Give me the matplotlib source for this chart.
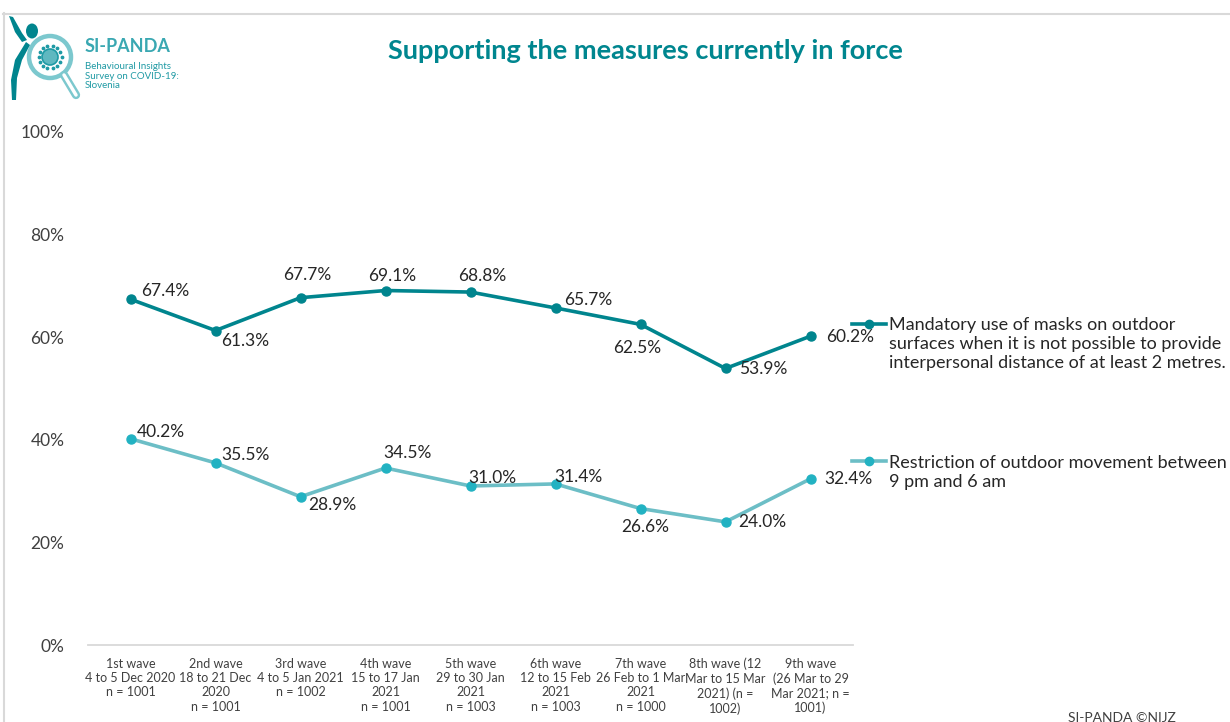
import matplotlib
matplotlib.use("Agg")
import matplotlib.pyplot as plt
from matplotlib.patches import Circle, Ellipse, Polygon
import numpy as np

# ---------------- data ----------------
waves = [
    "1st wave\n4 to 5 Dec 2020\nn = 1001",
    "2nd wave\n18 to 21 Dec\n2020\nn = 1001",
    "3rd wave\n4 to 5 Jan 2021\nn = 1002",
    "4th wave\n15 to 17 Jan\n2021\nn = 1001",
    "5th wave\n29 to 30 Jan\n2021\nn = 1003",
    "6th wave\n12 to 15 Feb\n2021\nn = 1003",
    "7th wave\n26 Feb to 1 Mar\n2021\nn = 1000",
    "8th wave (12\nMar to 15 Mar\n2021) (n =\n1002)",
    "9th wave\n(26 Mar to 29\nMar 2021; n =\n1001)",
]
masks = [67.4, 61.3, 67.7, 69.1, 68.8, 65.7, 62.5, 53.9, 60.2]
curfew = [40.2, 35.5, 28.9, 34.5, 31.0, 31.4, 26.6, 24.0, 32.4]
series_names = [
    "Mandatory use of masks on outdoor\nsurfaces when it is not possible to provide\ninterpersonal distance of at least 2 metres.",
    "Restriction of outdoor movement between\n9 pm and 6 am",
]
yticks = [0, 20, 40, 60, 80, 100]
title = "Supporting the measures currently in force"

# label offsets (pixels) - styling only
off1 = [(35, 8), (30, -10), (7, 23), (7, 15), (12, 16), (33, 8), (-3, -24), (38, -1), (40, -1)]
off2 = [(30, 7), (30, 8), (32, -8), (22, 15), (22, 8), (23, 7), (5, -18), (37, 0), (38, 0)]

FONT = ["Lato", "DejaVu Sans"]
plt.rcParams["font.family"] = FONT

C1 = "#00858e"
C2_LINE = "#6cbec6"
C2_MARK = "#22b2c2"
TEAL_TITLE = "#00868f"
GRID = "#d9d9d9"

W, H = 1230, 722
fig = plt.figure(figsize=(W / 100, H / 100), dpi=100)
fig.patch.set_facecolor("white")

# main axes
ax = fig.add_axes([88 / W, 1 - 645 / H, (853 - 88) / W, (645 - 132) / H])
x = np.arange(len(waves))
ax.plot(x, masks, color=C1, lw=2.6, marker="o", ms=6.5, mfc=C1, mec=C1, zorder=3, clip_on=False)
ax.plot(x, curfew, color=C2_LINE, lw=2.6, marker="o", ms=6.5, mfc=C2_MARK, mec=C2_MARK, zorder=3, clip_on=False)
ax.set_xlim(-0.5, len(waves) - 0.5)
ax.set_ylim(0, 100)
ax.set_yticks(yticks)
ax.set_yticklabels([f"{v}%" for v in yticks], fontsize=12.5, color="#404040")
ax.set_xticks(x)
ax.set_xticklabels(waves, fontsize=9, color="#404040", linespacing=1.25, va="top")
ax.tick_params(axis="both", length=0)
ax.tick_params(axis="y", pad=17)
ax.tick_params(axis="x", pad=9)
for s in ["top", "right", "left"]:
    ax.spines[s].set_visible(False)
ax.spines["bottom"].set_color(GRID)
ax.spines["bottom"].set_linewidth(1.3)
ax.set_facecolor("none")

for xi, v, (dx, dy) in zip(x, masks, off1):
    ax.annotate(f"{v:.1f}%", (xi, v), xytext=(dx, dy), textcoords="offset pixels",
                ha="center", va="center", fontsize=12.5, color="#262626", annotation_clip=False)
for xi, v, (dx, dy) in zip(x, curfew, off2):
    ax.annotate(f"{v:.1f}%", (xi, v), xytext=(dx, dy), textcoords="offset pixels",
                ha="center", va="center", fontsize=12.5, color="#262626", annotation_clip=False)

# overlay in pixel coordinates for decoration
ov = fig.add_axes([0, 0, 1, 1], zorder=-1)
ov.set_xlim(0, W)
ov.set_ylim(H, 0)
ov.axis("off")
ov.set_facecolor("none")

# frame lines
ov.plot([3, W], [13.5, 13.5], color=GRID, lw=1.5)
ov.plot([3.5, 3.5], [13, H], color=GRID, lw=1.5)

# title
ov.text(645, 51, title, ha="center", va="center", fontsize=19.5, fontweight="bold", color=TEAL_TITLE)

# legend (manual)
ov2 = fig.add_axes([0, 0, 1, 1], zorder=5)
ov2.set_xlim(0, W)
ov2.set_ylim(H, 0)
ov2.axis("off")
ov2.set_facecolor("none")
ov2.plot([852, 886], [324, 324], color=C1, lw=2.6)
ov2.plot([869], [324], "o", color=C1, ms=6)
ov2.text(889, 341, series_names[0], ha="left", va="center_baseline", fontsize=13, color="#262626",
         linespacing=1.22)
ov2.plot([852, 886], [461, 461], color=C2_LINE, lw=2.6)
ov2.plot([869], [461], "o", color=C2_MARK, ms=6)
ov2.text(889, 470, series_names[1], ha="left", va="center_baseline", fontsize=13, color="#262626",
         linespacing=1.22)

# footer
ov.text(1068, 712, "SI-PANDA ©NIJZ", ha="left", va="top", fontsize=10, color="#404040")

# logo
ov.add_patch(Circle((50, 57), 21, fill=False, ec="#7cc8ce", lw=3.2))
ov.plot([64, 76], [75, 95], color="#7cc8ce", lw=6, solid_capstyle="round")
ov.plot([64, 76], [75, 95], color="white", lw=2.5, solid_capstyle="round")
ov.add_patch(Circle((50, 57), 8, fc="#5fb8c0", ec="#1e9aa5", lw=1.2))
ang = np.linspace(0, 2 * np.pi, 14, endpoint=False)
ov.scatter(50 + 11.5 * np.cos(ang), 57 + 11.5 * np.sin(ang), s=3, color="#1e9aa5")
ov.add_patch(Ellipse((32, 31), 12, 15, fc=C1, ec="none"))
ov.add_patch(Polygon([[9, 16], [13, 17], [22, 33], [27, 40], [22, 42], [15, 32]], fc=C1, ec="none"))
ov.add_patch(Polygon([[26, 42], [30, 45], [22, 60], [17, 78], [16, 100], [12, 100], [11, 80],
                      [15, 60]], fc=C1, ec="none"))
ov.text(85, 47, "SI-PANDA", ha="left", va="center", fontsize=13, fontweight="bold", color="#3aa8b2")
ov.text(85, 62, "Behavioural Insights\nSurvey on COVID-19:\nSlovenia", ha="left", va="top",
        fontsize=7, color="#1f9aa4", linespacing=1.1)

fig.savefig("out.png", dpi=100, facecolor="white")
